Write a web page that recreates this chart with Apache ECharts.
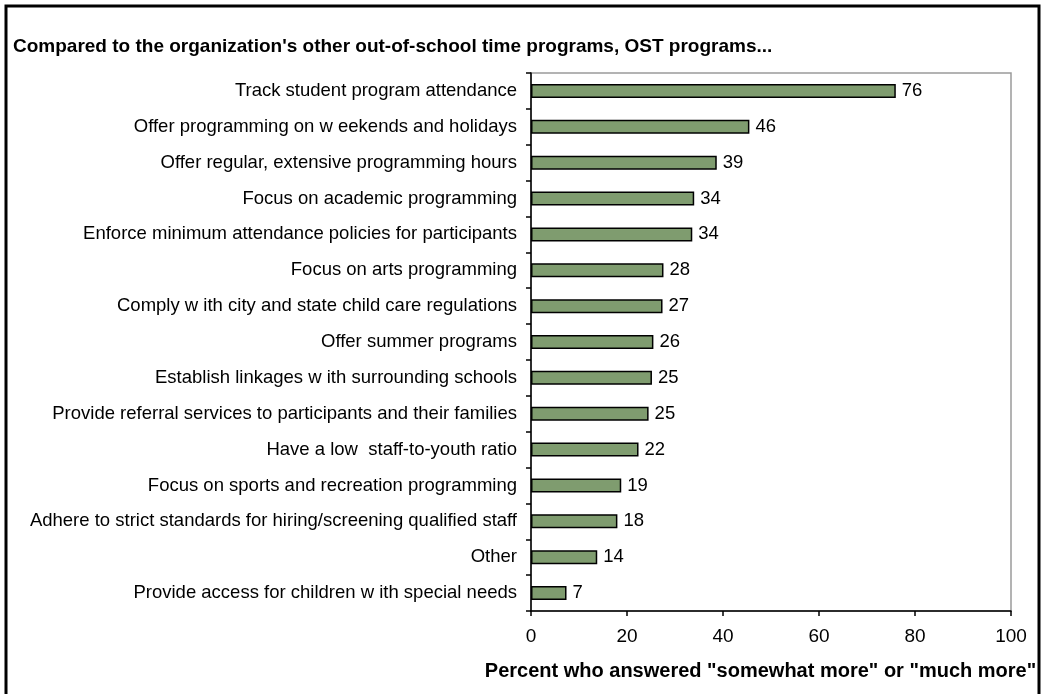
<!DOCTYPE html>
<html>
<head>
<meta charset="utf-8">
<script src="https://cdn.jsdelivr.net/npm/echarts@6/dist/echarts.min.js"></script>
<style>
  html, body { margin: 0; padding: 0; background: #fff; }
  #chart { width: 1042px; height: 694px; }
</style>
</head>
<body>
<div id="chart"></div>
<script>
// categories, top to bottom
const practices = [
  'Track student program attendance',
  'Offer programming on w eekends and holidays',
  'Offer regular, extensive programming hours',
  'Focus on academic programming',
  'Enforce minimum attendance policies for participants',
  'Focus on arts programming',
  'Comply w ith city and state child care regulations',
  'Offer summer programs',
  'Establish linkages w ith surrounding schools',
  'Provide referral services to participants and their families',
  'Have a low  staff-to-youth ratio',
  'Focus on sports and recreation programming',
  'Adhere to strict standards for hiring/screening qualified staff',
  'Other',
  'Provide access for children w ith special needs'
];
// percent who answered "somewhat more" or "much more" (bar lengths)
const percents = [76.0, 45.5, 38.7, 34.0, 33.6, 27.6, 27.4, 25.5, 25.2, 24.5, 22.4, 18.8, 18.0, 13.8, 7.4];
const xTicks = [0, 20, 40, 60, 80, 100];

const titleText = "Compared to the organization's other out-of-school time programs, OST programs...";
const xAxisTitle = 'Percent who answered "somewhat more" or "much more"';

const font = 'Arial, "Liberation Sans", sans-serif';
const chart = echarts.init(document.getElementById('chart'));

chart.setOption({
  animation: false,
  title: {
    text: titleText,
    left: 8,
    top: 32,
    textStyle: { fontFamily: font, fontSize: 19, fontWeight: 'bold', color: '#000' }
  },
  graphic: [
    {
      type: 'rect',
      shape: { x: 6, y: 6, width: 1033, height: 720 },
      style: { fill: null, stroke: '#000', lineWidth: 3 },
      silent: true
    }
  ],
  grid: {
    left: 531,
    right: 31,
    top: 73,
    bottom: 83,
    show: true,
    borderColor: '#9a9a9a',
    borderWidth: 1.5
  },
  xAxis: {
    type: 'value',
    min: xTicks[0],
    max: xTicks[xTicks.length - 1],
    interval: 20,
    splitLine: { show: false },
    axisLine: { show: true, lineStyle: { color: '#000', width: 1.5 } },
    axisTick: { show: true, length: 5, lineStyle: { color: '#000', width: 1.5 } },
    axisLabel: { margin: 16, fontFamily: font, fontSize: 19, color: '#000' },
    name: xAxisTitle,
    nameLocation: 'middle',
    nameGap: 50,
    nameTextStyle: {
      fontFamily: font, fontSize: 20, fontWeight: 'bold', color: '#000',
      padding: [0, 21, 0, 0]
    }
  },
  yAxis: {
    type: 'category',
    data: practices,
    inverse: true,
    axisLine: { show: true, lineStyle: { color: '#000', width: 1.5 } },
    axisTick: { show: true, length: 5, alignWithLabel: false, lineStyle: { color: '#000', width: 1.5 } },
    axisLabel: { margin: 14, fontFamily: font, fontSize: 18.5, color: '#000' }
  },
  series: [
    {
      type: 'bar',
      data: percents,
      barWidth: 14,
      itemStyle: { color: '#7f9c6f', borderColor: '#000', borderWidth: 1.5 },
      label: {
        show: true,
        position: 'right',
        distance: 6,
        fontFamily: font,
        fontSize: 18.5,
        color: '#000',
        formatter: p => Math.round(p.value)
      }
    }
  ]
});
</script>
</body>
</html>
